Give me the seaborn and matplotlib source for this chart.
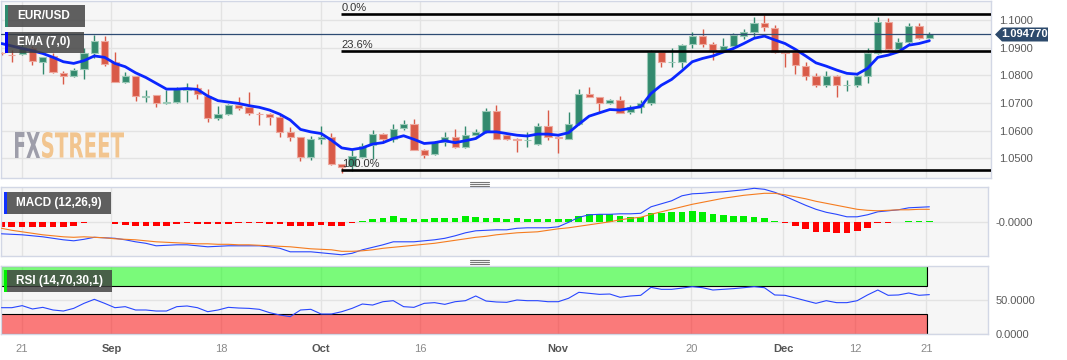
import matplotlib
matplotlib.use("Agg")
import matplotlib.pyplot as plt
import seaborn as sns
import numpy as np
from matplotlib.patches import Rectangle, Polygon, PathPatch
from matplotlib.textpath import TextPath
from matplotlib.font_manager import FontProperties
from matplotlib.transforms import Affine2D, IdentityTransform
from matplotlib.lines import Line2D

# --- EUR/USD daily candles ---
opens = [1.0881, 1.0874, 1.0877, 1.0900, 1.0849, 1.0870, 1.0810, 1.0798, 1.0821, 1.0882,
         1.0925, 1.0847, 1.0777, 1.0797, 1.0723, 1.0728, 1.0699, 1.0704, 1.0747, 1.0755,
         1.0725, 1.0644, 1.0658, 1.0692, 1.0684, 1.0661, 1.0660, 1.0650, 1.0595, 1.0575,
         1.0505, 1.0569, 1.0575, 1.0478, 1.0472, 1.0505, 1.0547, 1.0587, 1.0571, 1.0608,
         1.0622, 1.0529, 1.0514, 1.0559, 1.0577, 1.0542, 1.0584, 1.0595, 1.0670, 1.0583,
         1.0570, 1.0565, 1.0551, 1.0616, 1.0578, 1.0571, 1.0623, 1.0732, 1.0720, 1.0698,
         1.0710, 1.0668, 1.0686, 1.0698, 1.0885, 1.0847, 1.0849, 1.0915, 1.0942, 1.0913,
         1.0891, 1.0906, 1.0943, 1.0958, 1.0988, 1.0973, 1.0886, 1.0883, 1.0835, 1.0797,
         1.0764, 1.0797, 1.0763, 1.0764, 1.0797, 1.0882, 1.0994, 1.0894, 1.0921, 1.0979,
         1.0935]
highs = [1.0886, 1.0891, 1.0917, 1.0905, 1.0868, 1.0879, 1.0815, 1.0827, 1.0897, 1.0946,
         1.0942, 1.0883, 1.0813, 1.0799, 1.0746, 1.0730, 1.0746, 1.0758, 1.0773, 1.0767,
         1.0752, 1.0688, 1.0695, 1.0720, 1.0738, 1.0668, 1.0665, 1.0655, 1.0611, 1.0577,
         1.0580, 1.0616, 1.0592, 1.0480, 1.0529, 1.0553, 1.0601, 1.0590, 1.0623, 1.0638,
         1.0641, 1.0532, 1.0563, 1.0595, 1.0607, 1.0616, 1.0604, 1.0680, 1.0694, 1.0585,
         1.0572, 1.0595, 1.0626, 1.0676, 1.0580, 1.0668, 1.0749, 1.0756, 1.0722, 1.0714,
         1.0726, 1.0692, 1.0710, 1.0890, 1.0887, 1.0897, 1.0912, 1.0955, 1.0966, 1.0921,
         1.0934, 1.0952, 1.0966, 1.1010, 1.1018, 1.0982, 1.0890, 1.0894, 1.0849, 1.0807,
         1.0816, 1.0800, 1.0783, 1.0800, 1.0897, 1.1012, 1.1006, 1.0934, 1.0988, 1.0988,
         1.0955]
lows = [1.0874, 1.0849, 1.0873, 1.0837, 1.0804, 1.0807, 1.0768, 1.0795, 1.0785, 1.0861,
        1.0833, 1.0775, 1.0771, 1.0708, 1.0704, 1.0686, 1.0697, 1.0700, 1.0704, 1.0713,
        1.0632, 1.0638, 1.0655, 1.0676, 1.0655, 1.0620, 1.0620, 1.0577, 1.0563, 1.0490,
        1.0493, 1.0551, 1.0475, 1.0447, 1.0454, 1.0502, 1.0495, 1.0556, 1.0559, 1.0601,
        1.0529, 1.0499, 1.0510, 1.0543, 1.0535, 1.0535, 1.0580, 1.0590, 1.0569, 1.0566,
        1.0523, 1.0541, 1.0547, 1.0565, 1.0517, 1.0568, 1.0620, 1.0720, 1.0668, 1.0695,
        1.0662, 1.0659, 1.0664, 1.0693, 1.0831, 1.0831, 1.0825, 1.0897, 1.0903, 1.0855,
        1.0885, 1.0900, 1.0930, 1.0940, 1.0961, 1.0879, 1.0831, 1.0804, 1.0783, 1.0756,
        1.0756, 1.0722, 1.0744, 1.0758, 1.0773, 1.0876, 1.0888, 1.0888, 1.0915, 1.0930,
        1.0933]
closes = [1.0879, 1.0872, 1.0903, 1.0850, 1.0865, 1.0813, 1.0799, 1.0819, 1.0879, 1.0925,
          1.0841, 1.0777, 1.0797, 1.0725, 1.0725, 1.0698, 1.0704, 1.0749, 1.0752, 1.0734,
          1.0644, 1.0658, 1.0692, 1.0680, 1.0662, 1.0659, 1.0650, 1.0596, 1.0575, 1.0505,
          1.0568, 1.0575, 1.0478, 1.0469, 1.0507, 1.0543, 1.0587, 1.0569, 1.0607, 1.0622,
          1.0531, 1.0513, 1.0559, 1.0577, 1.0542, 1.0583, 1.0595, 1.0671, 1.0571, 1.0570,
          1.0567, 1.0567, 1.0616, 1.0577, 1.0574, 1.0623, 1.0732, 1.0722, 1.0698, 1.0710,
          1.0665, 1.0686, 1.0700, 1.0885, 1.0847, 1.0849, 1.0909, 1.0942, 1.0915, 1.0891,
          1.0906, 1.0946, 1.0958, 1.0988, 1.0976, 1.0885, 1.0882, 1.0837, 1.0797, 1.0764,
          1.0797, 1.0764, 1.0765, 1.0797, 1.0882, 1.0994, 1.0894, 1.0921, 1.0979, 1.0934,
          1.09477]
ema7 = [1.0915, 1.0906, 1.0897, 1.0889, 1.0879, 1.0865, 1.0849, 1.0843, 1.0853, 1.0870,
        1.0865, 1.0843, 1.0831, 1.0809, 1.0792, 1.0771, 1.0750, 1.0750, 1.0752, 1.0749,
        1.0725, 1.0708, 1.0703, 1.0698, 1.0690, 1.0684, 1.0674, 1.0659, 1.0638, 1.0604,
        1.0595, 1.0589, 1.0565, 1.0537, 1.0531, 1.0537, 1.0551, 1.0556, 1.0571, 1.0581,
        1.0568, 1.0553, 1.0556, 1.0563, 1.0556, 1.0563, 1.0571, 1.0595, 1.0595, 1.0589,
        1.0583, 1.0580, 1.0587, 1.0587, 1.0583, 1.0592, 1.0623, 1.0652, 1.0664, 1.0676,
        1.0674, 1.0680, 1.0686, 1.0734, 1.0764, 1.0785, 1.0816, 1.0849, 1.0861, 1.0870,
        1.0884, 1.0897, 1.0915, 1.0934, 1.0942, 1.0928, 1.0915, 1.0894, 1.0870, 1.0845,
        1.0833, 1.0819, 1.0807, 1.0804, 1.0825, 1.0865, 1.0873, 1.0885, 1.0909, 1.0915,
        1.0925]

# --- MACD (12,26,9) ---
macd_line = [-0.0023, -0.0024, -0.0025, -0.0027, -0.0029, -0.0032, -0.0035, -0.0037, -0.0034, -0.0030,
             -0.0031, -0.0032, -0.0035, -0.0039, -0.0042, -0.0047, -0.0046, -0.0045, -0.0045, -0.0047,
             -0.0049, -0.0048, -0.0047, -0.0047, -0.0047, -0.0047, -0.0049, -0.0052, -0.0059, -0.0059,
             -0.0059, -0.0061, -0.0063, -0.0065, -0.0062, -0.0055, -0.0050, -0.0045, -0.0039, -0.0039,
             -0.0039, -0.0037, -0.0035, -0.0032, -0.0027, -0.0021, -0.0017, -0.0016, -0.0015, -0.0015,
             -0.0012, -0.0011, -0.0011, -0.0011, -0.0009, 0.0000, 0.0010, 0.0015, 0.0016, 0.0016,
             0.0017, 0.0017, 0.0018, 0.0031, 0.0037, 0.0043, 0.0053, 0.0057, 0.0058, 0.0060,
             0.0061, 0.0063, 0.0065, 0.0068, 0.0066, 0.0060, 0.0052, 0.0043, 0.0034, 0.0026,
             0.0020, 0.0016, 0.0011, 0.0011, 0.0015, 0.0021, 0.0023, 0.0025, 0.0029, 0.0030,
             0.0031]
macd_signal = [-0.0012, -0.0016, -0.0019, -0.0022, -0.0025, -0.0027, -0.0029, -0.0030, -0.0029, -0.0030,
               -0.0031, -0.0033, -0.0034, -0.0035, -0.0037, -0.0039, -0.0040, -0.0041, -0.0042, -0.0043,
               -0.0043, -0.0044, -0.0044, -0.0045, -0.0045, -0.0046, -0.0047, -0.0048, -0.0049, -0.0051,
               -0.0053, -0.0054, -0.0055, -0.0058, -0.0058, -0.0057, -0.0055, -0.0052, -0.0050, -0.0048,
               -0.0046, -0.0044, -0.0042, -0.0039, -0.0036, -0.0033, -0.0030, -0.0028, -0.0025, -0.0023,
               -0.0021, -0.0020, -0.0019, -0.0016, -0.0013, -0.0011, -0.0008, -0.0005, -0.0002, 0.0001,
               0.0005, 0.0008, 0.0010, 0.0016, 0.0021, 0.0026, 0.0031, 0.0036, 0.0040, 0.0044,
               0.0048, 0.0051, 0.0054, 0.0056, 0.0058, 0.0058, 0.0055, 0.0051, 0.0047, 0.0042,
               0.0038, 0.0034, 0.0030, 0.0026, 0.0024, 0.0023, 0.0024, 0.0025, 0.0025, 0.0026,
               0.0026]
macd_hist = [-0.0009, -0.0009, -0.0009, -0.0009, -0.0009, -0.0009, -0.0009, -0.0008, -0.0002, 0.0001,
             0.00005, -0.0003, -0.0006, -0.0008, -0.0008, -0.0008, -0.0008, -0.0003, -0.0002, -0.0003,
             -0.0003, -0.0003, -0.0003, -0.0002, -0.0002, -0.0002, -0.0003, -0.0003, -0.0007, -0.0008,
             -0.0007, -0.0006, -0.0008, -0.0008, -0.0002, 0.0002, 0.0006, 0.0009, 0.0012, 0.0008,
             0.0007, 0.0007, 0.0008, 0.0008, 0.0009, 0.0013, 0.0011, 0.0009, 0.0008, 0.0007,
             0.0008, 0.0007, 0.0006, 0.0006, 0.0006, 0.0006, 0.0013, 0.0017, 0.0017, 0.0017,
             0.0012, 0.0010, 0.0010, 0.0018, 0.0019, 0.0020, 0.0021, 0.0023, 0.0021, 0.0017,
             0.0015, 0.0013, 0.0012, 0.0011, 0.0009, 0.0002, -0.0002, -0.0007, -0.0013, -0.0019,
             -0.0020, -0.0021, -0.0021, -0.0018, -0.0012, -0.0002, -0.0001, 0.0001, 0.0003, 0.0003,
             0.0003]

# --- RSI (14) ---
rsi = [38.7, 38.7, 41.7, 36.8, 39.2, 35.3, 33.8, 37.7, 45.1, 51.0,
       45.1, 38.7, 40.2, 35.3, 35.3, 33.8, 33.8, 40.2, 41.2, 38.7,
       32.8, 35.3, 39.2, 38.2, 37.7, 36.3, 31.4, 27.9, 25.5, 35.3,
       36.3, 29.4, 29.4, 32.8, 37.7, 44.1, 42.6, 47.5, 49.0, 40.2,
       39.2, 45.1, 46.1, 43.6, 47.5, 49.0, 55.9, 48.5, 47.1, 46.6,
       50.0, 49.0, 49.0, 47.5, 47.5, 52.5, 61.3, 59.8, 58.3, 58.8,
       54.0, 55.9, 56.9, 68.6, 65.7, 65.7, 67.5, 69.6, 68.1, 64.7,
       65.7, 66.7, 68.1, 69.6, 68.1, 57.4, 56.9, 53.0, 49.0, 45.1,
       49.0, 46.1, 46.1, 49.0, 57.4, 64.7, 56.9, 57.4, 60.3, 56.9,
       57.9]

# x-axis date labels (position in candle units) and Fibonacci retracement
tick_pos = [1.94, 10.66, 21.3, 31.0, 40.6, 54.0, 66.9, 75.8, 82.8, 89.7]
tick_labels = ["21", "Sep", "18", "Oct", "16", "Nov", "20", "Dec", "12", "21"]
month_labels = ["Sep", "Oct", "Nov", "Dec"]
fib_high, fib_low = 1.1022, 1.0457
fib_ratios = [0.0, 0.236, 1.0]
fib_start = 33

# --- style ---
sns.set_theme(style="white")
plt.rcParams["font.family"] = ["Liberation Sans", "DejaVu Sans"]

W, H = 1067, 360
GREEN, RED = "#338a6e", "#d95a48"
GREEN_EDGE, RED_EDGE = "#9bc9b7", "#eca99f"
PANEL_BG = "#f6f6f6"
BORDER = "#d2d7e5"
GRID = "#e3e3e3"
TICK_COLOR = "#5a5a5a"

fig = plt.figure(figsize=(W / 100, H / 100), dpi=100, facecolor="white")


def panel(top, bottom, right):
    return fig.add_axes([0.5 / W, 1 - bottom / H, right / W, (bottom - top) / H])


ax = panel(1, 178, 990)
ax_macd = panel(187, 256, 987)
ax_rsi = panel(266, 334, 987)

idx = np.arange(len(closes))
px_per_bar = 10.32

for a, right in [(ax, 990), (ax_macd, 987), (ax_rsi, 987)]:
    a.set_facecolor(PANEL_BG)
    a.set_xlim(-0.1, right / px_per_bar)
    a.set_xticks(tick_pos)
    a.set_xticklabels([])
    a.grid(True, color=GRID, linewidth=1)
    a.set_axisbelow(True)
    a.yaxis.tick_right()
    a.tick_params(axis="y", length=0, pad=6, labelsize=8, labelcolor=TICK_COLOR)
    a.tick_params(axis="x", length=0)
    for s in a.spines.values():
        s.set_color(BORDER)
        s.set_linewidth(1)

# --- main price panel ---
o, h, l, c = map(np.array, (opens, highs, lows, closes))
up = c >= o
colors = np.where(up, GREEN, RED)
edges = np.where(up, GREEN_EDGE, RED_EDGE)
ax.vlines(idx, l, h, colors=colors, linewidth=1, zorder=2)
body_low = np.minimum(o, c)
body_h = np.maximum(np.abs(c - o), 0.00005)
ax.bar(idx, body_h, bottom=body_low, width=0.7, color=colors, edgecolor=edges,
       linewidth=0.8, zorder=3)
sns.lineplot(x=idx, y=ema7, ax=ax, color="#0a26ff", linewidth=2.0, zorder=4)

ax.set_ylim(1.0428, 1.1069)
ax.set_yticks([1.05, 1.06, 1.07, 1.08, 1.09, 1.10])
ax.set_yticklabels([f"{v:.4f}" for v in [1.05, 1.06, 1.07, 1.08, 1.09, 1.10]])

xr = 990 / px_per_bar
for r in fib_ratios:
    level = fib_high - r * (fib_high - fib_low)
    ax.hlines(level, fib_start - 0.1, xr, color="black", linewidth=1.9, zorder=5)
    ax.text(fib_start, level + 0.0003, f"{r * 100:.1f}%", ha="left", va="bottom",
            fontsize=8, color="#333333", zorder=6)

last = closes[-1]
ax.axhline(last, color="#2d4b73", linewidth=0.9, zorder=5)

# --- MACD panel ---
hist = np.array(macd_hist)
ax_macd.bar(idx, hist, width=0.65, color=np.where(hist >= 0, "#00ee00", "#ff0000"),
            linewidth=0, zorder=2)
sns.lineplot(x=idx, y=macd_line, ax=ax_macd, color="#2846ff", linewidth=0.8, zorder=3)
sns.lineplot(x=idx, y=macd_signal, ax=ax_macd, color="#f57c1f", linewidth=0.8, zorder=3)
ax_macd.set_ylim(-0.00674, 0.00706)
ax_macd.set_yticks([0.0])
ax_macd.set_yticklabels(["-0.0000"])

# --- RSI panel ---
ax_rsi.set_ylim(0, 100)
band_w = idx[-1] - 0.1
ax_rsi.add_patch(Rectangle((-0.1, 70), band_w, 30, facecolor=(0.0, 1.0, 0.0, 0.5),
                           edgecolor="black", linewidth=0.8, zorder=1))
ax_rsi.add_patch(Rectangle((-0.1, 0), band_w, 30, facecolor=(1.0, 0.0, 0.0, 0.5),
                           edgecolor="black", linewidth=0.8, zorder=1))
sns.lineplot(x=idx, y=rsi, ax=ax_rsi, color="#2846ff", linewidth=0.8, zorder=3)
ax_rsi.set_yticks([0, 50])
ax_rsi.set_yticklabels(["0.0000", "50.0000"])
ax_rsi.set_xticklabels(tick_labels)
ax_rsi.tick_params(axis="x", pad=7, labelsize=8)
for lab in ax_rsi.get_xticklabels():
    if lab.get_text() in month_labels:
        lab.set_fontweight("bold")
        lab.set_color("#555555")
    else:
        lab.set_color("#8a8a8a")

for a in (ax, ax_macd, ax_rsi):
    a.set_xlabel("")
    a.set_ylabel("")


# --- overlays in pixel coordinates ---
def tag(text, x0, y0, w, hh, accent):
    fig.add_artist(Rectangle((x0 / W, 1 - (y0 + hh) / H), w / W, hh / H,
                             transform=fig.transFigure, facecolor="#3e3e3e",
                             alpha=0.82, edgecolor="none", zorder=10))
    fig.add_artist(Rectangle(((x0 - 1) / W, 1 - (y0 + hh) / H), 3 / W, hh / H,
                             transform=fig.transFigure, facecolor=accent,
                             edgecolor="none", zorder=11))
    fig.text((x0 + 11) / W, 1 - (y0 + hh / 2) / H, text, color="white",
             fontsize=8.5, fontweight="bold", ha="left", va="center", zorder=12)


tag("EUR/USD", 6, 5, 79, 22, "#2e8b6e")
tag("EMA (7,0)", 6, 32, 78, 21, "#0000ff")
tag("MACD (12,26,9)", 5, 192, 106, 22, "#1030ff")
tag("RSI (14,70,30,1)", 5, 270, 107, 22, "#00ee00")


def watermark(text, x0, x1, y_top, y_bot, color):
    tp = TextPath((0, 0), text, size=40,
                  prop=FontProperties(family="DejaVu Sans", weight="bold"))
    bb = tp.get_extents()
    tr = (Affine2D().translate(-bb.x0, -bb.y0)
          .scale((x1 - x0) / bb.width, (y_bot - y_top) / bb.height)
          .translate(x0, H - y_bot))
    fig.add_artist(PathPatch(tr.transform_path(tp), facecolor=color, edgecolor="none",
                             transform=IdentityTransform(), zorder=1))


watermark("FX", 15, 40, 132, 158, "#9e9eaa")
watermark("STREET", 42, 124, 132, 158, "#f2c58f")

# last price label with arrow
y_last = H - ax.transData.transform((0, last))[1]
pts = [(995, y_last), (1002, y_last - 7), (1048, y_last - 7), (1048, y_last + 7), (1002, y_last + 7)]
fig.add_artist(Polygon([(x / W, 1 - y / H) for x, y in pts], closed=True,
                       transform=fig.transFigure, facecolor="#2d4a6c", edgecolor="none", zorder=10))
fig.text(1025 / W, 1 - y_last / H, f"{last:.6f}", color="white", fontsize=8,
         fontweight="bold", ha="center", va="center", zorder=11)

# panel resize handles
for yy in (182, 260):
    for k in range(3):
        fig.add_artist(Line2D([470 / W, 489 / W], [1 - (yy + 2 * k) / H] * 2,
                              transform=fig.transFigure, color="#777777", linewidth=0.8))

fig.savefig("out.png", dpi=100, facecolor="white")
